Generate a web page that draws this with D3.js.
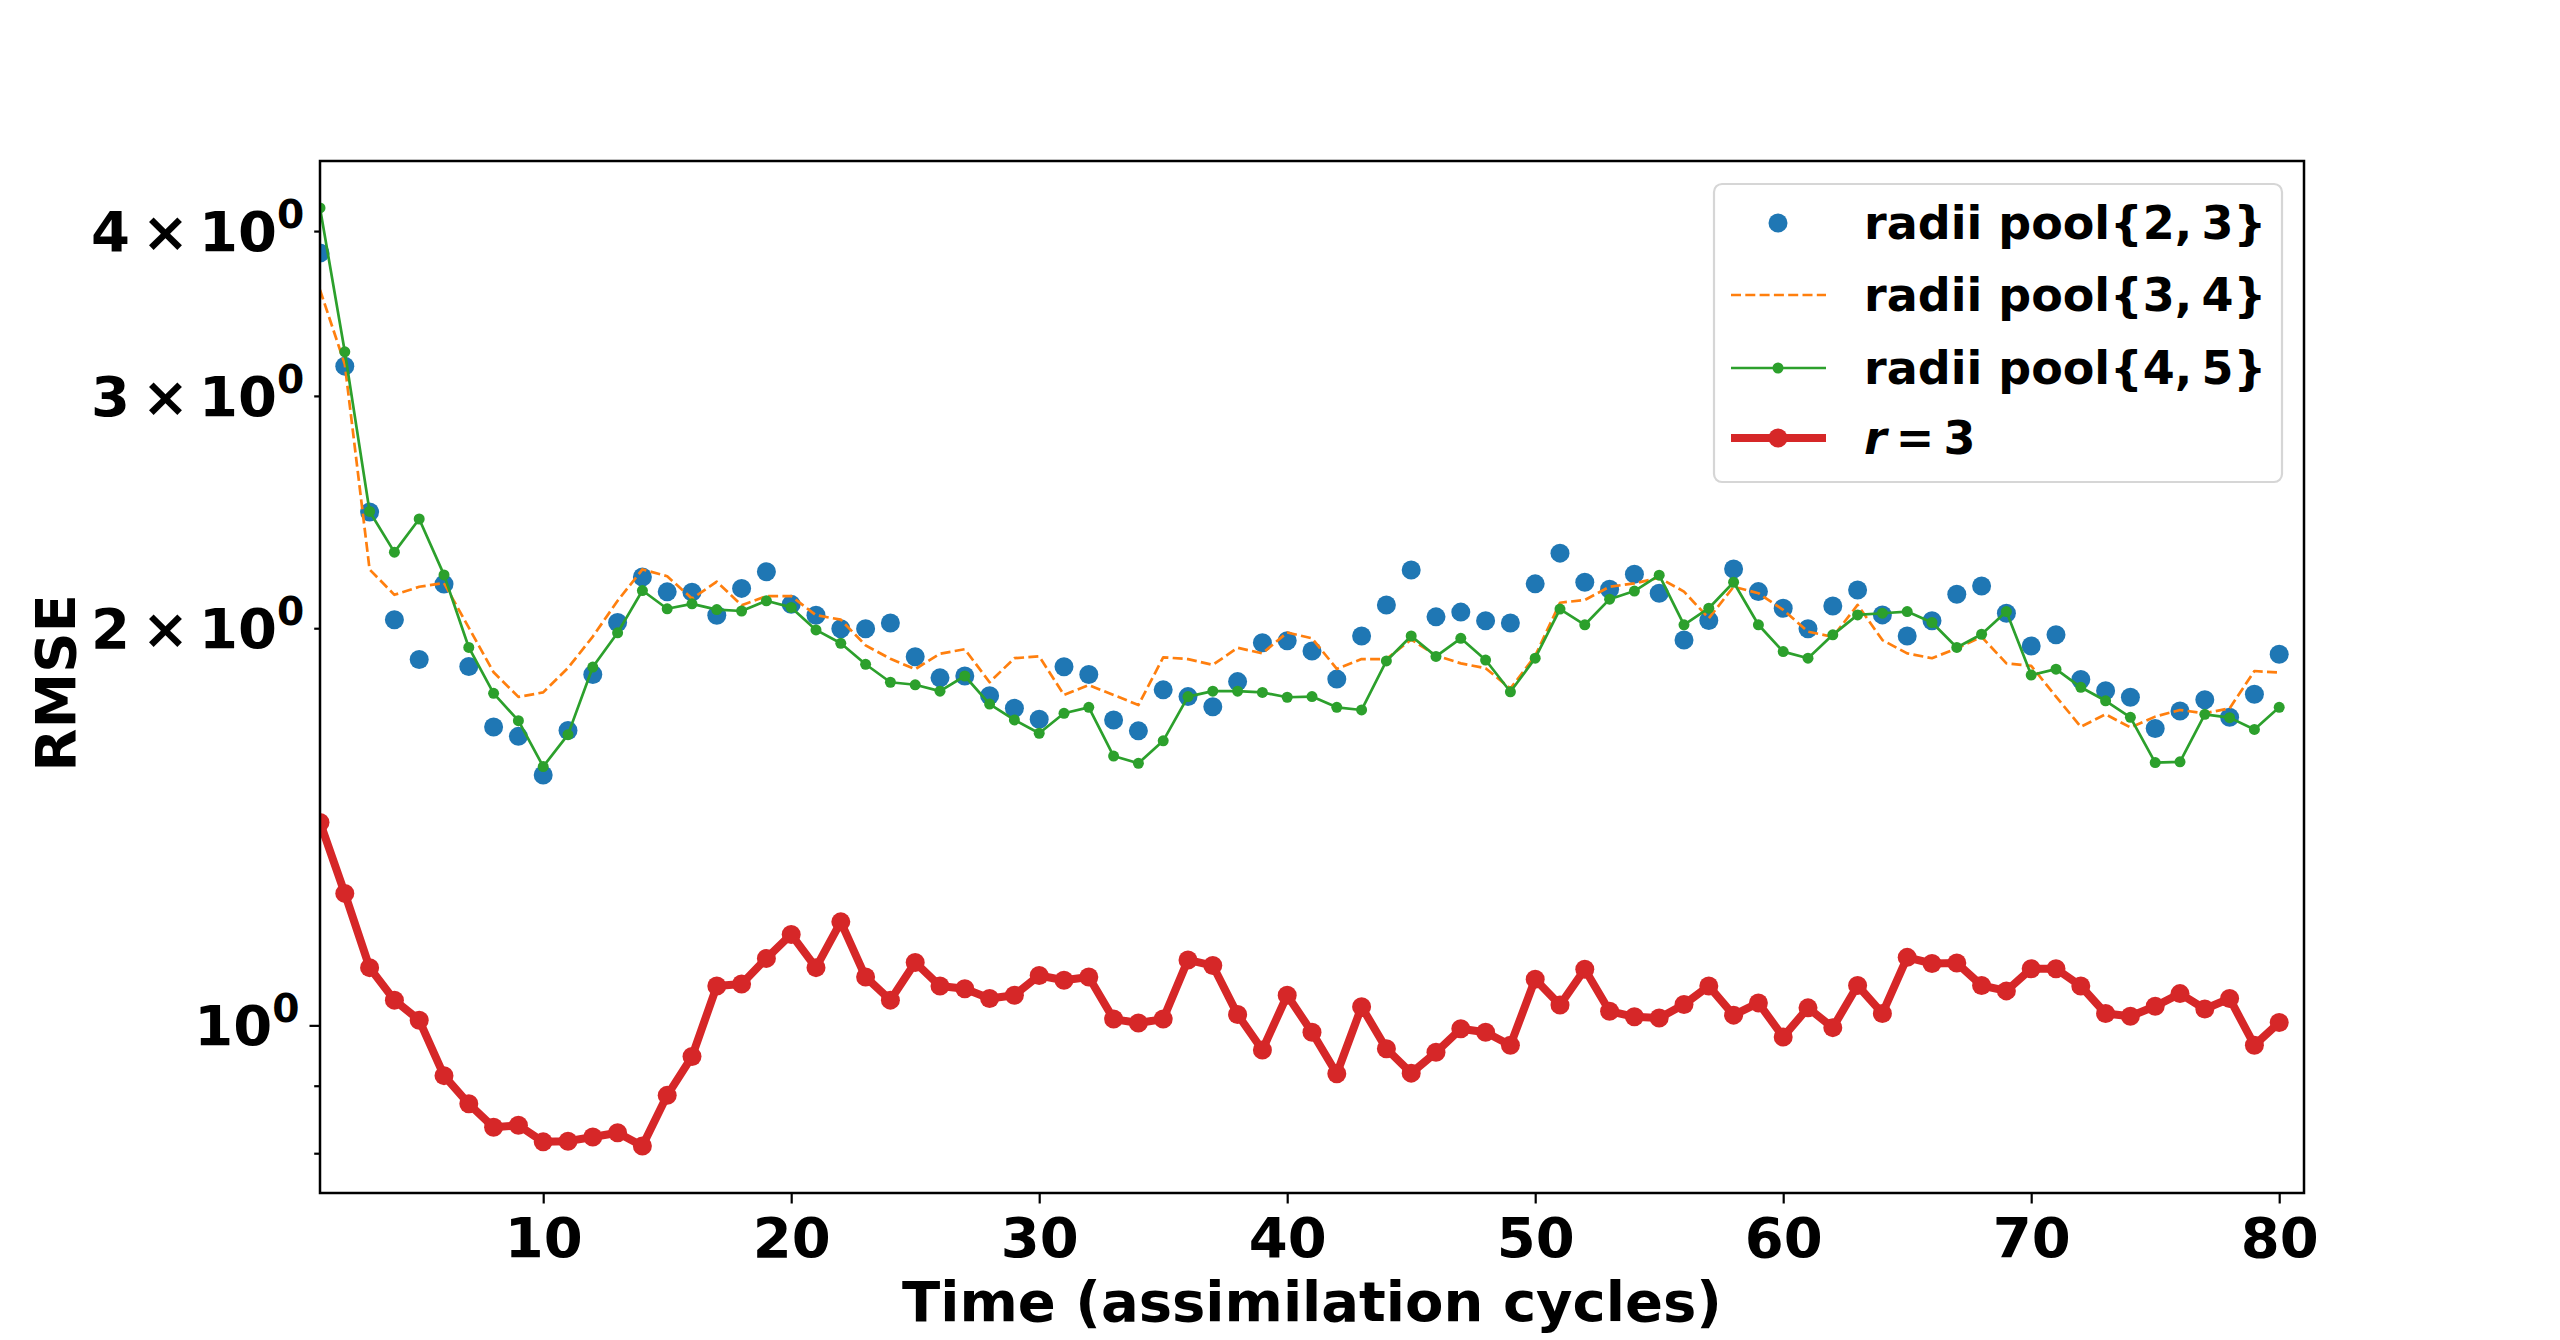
<!DOCTYPE html>
<html>
<head>
<meta charset="utf-8">
<script src="https://cdn.jsdelivr.net/npm/d3@7"></script>
<style>
  html, body { margin: 0; padding: 0; background: #fff; }
  svg { display: block; font-family: 'DejaVu Sans', sans-serif; font-weight: bold; }
</style>
</head>
<body>
<svg id="chart" width="2560" height="1340"></svg>
<script>
// assimilation cycle index
const cycles = d3.range(1, 81)

const pool23 = [
  3.85, 3.16, 2.45, 2.03, 1.894, 2.16, 1.871, 1.683, 1.656, 1.548,
  1.673, 1.845, 2.02, 2.187, 2.131, 2.13, 2.046, 2.144, 2.207, 2.085,
  2.046, 1.998, 1.998, 2.018, 1.903, 1.834, 1.84, 1.778, 1.739, 1.706,
  1.87, 1.845, 1.704, 1.672, 1.796, 1.775, 1.744, 1.822, 1.95, 1.957,
  1.922, 1.83, 1.973, 2.083, 2.214, 2.04, 2.057, 2.026, 2.018, 2.161,
  2.28, 2.167, 2.141, 2.198, 2.126, 1.959, 2.027, 2.218, 2.132, 2.071,
  1.998, 2.079, 2.138, 2.047, 1.973, 2.026, 2.122, 2.153, 2.053, 1.939,
  1.977, 1.829, 1.793, 1.773, 1.679, 1.731, 1.765, 1.712, 1.782, 1.911,
]

const pool34 = [
  3.61, 3.17, 2.216, 2.12, 2.15, 2.164, 2.002, 1.852, 1.774, 1.788,
  1.866, 1.971, 2.098, 2.216, 2.19, 2.106, 2.169, 2.082, 2.115, 2.115,
  2.046, 2.03, 1.941, 1.896, 1.862, 1.913, 1.928, 1.82, 1.898, 1.904,
  1.78, 1.811, 1.78, 1.749, 1.901, 1.895, 1.876, 1.933, 1.914, 1.985,
  1.965, 1.863, 1.895, 1.895, 1.961, 1.907, 1.881, 1.865, 1.8, 1.906,
  2.091, 2.101, 2.15, 2.163, 2.184, 2.132, 2.035, 2.15, 2.126, 2.065,
  1.988, 1.97, 2.083, 1.959, 1.914, 1.898, 1.931, 1.97, 1.881, 1.873,
  1.775, 1.684, 1.721, 1.682, 1.714, 1.734, 1.724, 1.739, 1.856, 1.851,
]

const pool45 = [
  4.165, 3.24, 2.452, 2.284, 2.42, 2.195, 1.934, 1.785, 1.702, 1.571,
  1.661, 1.869, 1.984, 2.136, 2.069, 2.087, 2.066, 2.061, 2.098, 2.074,
  1.994, 1.948, 1.878, 1.82, 1.812, 1.792, 1.84, 1.752, 1.704, 1.665,
  1.724, 1.742, 1.6, 1.58, 1.643, 1.775, 1.792, 1.792, 1.788, 1.773,
  1.775, 1.742, 1.734, 1.889, 1.973, 1.904, 1.965, 1.892, 1.79, 1.898,
  2.068, 2.012, 2.104, 2.134, 2.194, 2.012, 2.071, 2.167, 2.012, 1.92,
  1.898, 1.977, 2.047, 2.053, 2.059, 2.02, 1.934, 1.979, 2.059, 1.843,
  1.862, 1.804, 1.762, 1.712, 1.582, 1.584, 1.721, 1.711, 1.676, 1.742,
]

const r3 = [
  1.425, 1.259, 1.106, 1.045, 1.009, 0.916, 0.872, 0.837, 0.84, 0.816,
  0.817, 0.823, 0.829, 0.81, 0.885, 0.947, 1.071, 1.075, 1.124, 1.172,
  1.106, 1.198, 1.088, 1.045, 1.116, 1.071, 1.066, 1.048, 1.054, 1.091,
  1.082, 1.088, 1.011, 1.004, 1.011, 1.121, 1.11, 1.019, 0.958, 1.054,
  0.988, 0.919, 1.033, 0.96, 0.92, 0.954, 0.994, 0.988, 0.966, 1.084,
  1.036, 1.103, 1.025, 1.015, 1.013, 1.037, 1.071, 1.018, 1.04, 0.98,
  1.031, 0.996, 1.072, 1.021, 1.126, 1.114, 1.115, 1.072, 1.062, 1.104,
  1.104, 1.071, 1.021, 1.016, 1.034, 1.057, 1.029, 1.048, 0.966, 1.005,
]

const xTicks = [10, 20, 30, 40, 50, 60, 70, 80]
const yTicks = [0.8, 0.9, 1, 2, 3, 4]
const yTickMantissa = ['', '', '', '2', '3', '4']
const legendNames = ['radii pool{2,\u20093}', 'radii pool{3,\u20094}', 'radii pool{4,\u20095}', '\u2009=\u20093']

const width = 2560
const height = 1340
const margin = { top: 161, right: 256, bottom: 147, left: 320 }
const innerW = width - margin.left - margin.right
const innerH = height - margin.top - margin.bottom
const fontSize = 56

const series = [
  { values: pool23, color: '#1f77b4', lineWidth: 0, dotR: 9.5 },
  { values: pool34, color: '#ff7f0e', lineWidth: 2.7, dash: '10,4.3', dotR: 0 },
  { values: pool45, color: '#2ca02c', lineWidth: 2.7, dotR: 5.5 },
  { values: r3, color: '#d62728', lineWidth: 8, dotR: 9.5 },
]

// log axis limits padded 5% each side like matplotlib autoscale
const allValues = [].concat(pool23, pool34, pool45, r3)
const logLo = Math.log10(d3.min(allValues))
const logHi = Math.log10(d3.max(allValues))
const logPad = (logHi - logLo) * 0.05

const x = d3.scaleLinear().domain([1, 81]).range([0, innerW])
const y = d3.scaleLog()
  .domain([Math.pow(10, logLo - logPad), Math.pow(10, logHi + logPad)])
  .range([innerH, 0])

const svg = d3.select('#chart')
const g = svg.append('g').attr('transform', `translate(${margin.left},${margin.top})`)

g.append('defs').append('clipPath').attr('id', 'plot-clip')
  .append('rect').attr('width', innerW).attr('height', innerH)

const plot = g.append('g').attr('clip-path', 'url(#plot-clip)')

series.forEach((s) => {
  const pts = cycles.map((c, i) => [c, s.values[i]])
  if (s.lineWidth) {
    plot.append('path')
      .datum(pts)
      .attr('fill', 'none')
      .attr('stroke', s.color)
      .attr('stroke-width', s.lineWidth)
      .attr('stroke-dasharray', s.dash || null)
      .attr('stroke-linejoin', 'round')
      .attr('d', d3.line().x((d) => x(d[0])).y((d) => y(d[1])))
  }
  if (s.dotR) {
    plot.append('g').selectAll('circle')
      .data(pts)
      .enter()
      .append('circle')
      .attr('cx', (d) => x(d[0]))
      .attr('cy', (d) => y(d[1]))
      .attr('r', s.dotR)
      .attr('fill', s.color)
  }
})

// x axis
const xAxis = g.append('g')
  .attr('transform', `translate(0,${innerH})`)
  .call(d3.axisBottom(x).tickValues(xTicks).tickSize(10.5).tickPadding(0).tickFormat(d3.format('d')))
xAxis.select('.domain').remove()
xAxis.selectAll('line').attr('stroke', '#000').attr('stroke-width', 2.2)
xAxis.selectAll('text')
  .attr('y', 64)
  .attr('dy', null)
  .attr('fill', '#000')
  .style('font-size', fontSize + 'px')
  .style('font-family', 'DejaVu Sans')
  .style('font-weight', 'bold')

// y axis, only 10^0 is a major tick
const yAxis = g.append('g')
  .call(d3.axisLeft(y).tickValues(yTicks).tickSize(10.5).tickFormat(''))
yAxis.select('.domain').remove()
yAxis.selectAll('.tick line')
  .attr('stroke', '#000')
  .attr('stroke-width', 2.2)
  .attr('x2', (d) => { return d === 1 ? -10.5 : -5.8 })

yTicks.forEach((v, i) => {
  if (v < 1) return
  const tickLen = v === 1 ? 10.5 : 5.8
  const t = g.append('text')
    .attr('x', -tickLen - 10)
    .attr('y', y(v) + 20)
    .attr('text-anchor', 'end')
    .style('font-size', fontSize + 'px')
  if (yTickMantissa[i]) {
    t.append('tspan').text(yTickMantissa[i])
    t.append('tspan').attr('dx', 12).text('×')
    t.append('tspan').attr('dx', 10).text('10')
  } else {
    t.append('tspan').text('10')
  }
  t.append('tspan')
    .attr('dy', -23)
    .style('font-size', (fontSize * 0.7) + 'px')
    .text('0')
})

// frame
g.append('rect')
  .attr('width', innerW)
  .attr('height', innerH)
  .attr('fill', 'none')
  .attr('stroke', '#000')
  .attr('stroke-width', 2.5)

// axis labels
svg.append('text')
  .attr('x', margin.left + innerW / 2)
  .attr('y', 1321)
  .attr('text-anchor', 'middle')
  .style('font-size', fontSize + 'px')
  .text('Time (assimilation cycles)')

svg.append('text')
  .attr('transform', `translate(75,${margin.top + innerH / 2 + 6}) rotate(-90)`)
  .attr('text-anchor', 'middle')
  .style('font-size', fontSize + 'px')
  .text('RMSE')

// legend
const legend = svg.append('g').attr('transform', 'translate(1714,184)')
legend.append('rect')
  .attr('width', 568)
  .attr('height', 298)
  .attr('rx', 8)
  .attr('fill', '#fff')
  .attr('fill-opacity', 0.8)
  .attr('stroke', '#d6d6d6')
  .attr('stroke-width', 2.2)

const rowY = [39, 111, 184, 254]
series.forEach((s, i) => {
  const row = legend.append('g').attr('transform', `translate(0,${rowY[i]})`)
  if (s.lineWidth) {
    row.append('line')
      .attr('x1', 17)
      .attr('x2', 112)
      .attr('stroke', s.color)
      .attr('stroke-width', s.lineWidth)
      .attr('stroke-dasharray', s.dash || null)
  }
  if (s.dotR) {
    row.append('circle').attr('cx', 64).attr('r', s.dotR).attr('fill', s.color)
  }
  const label = row.append('text')
    .attr('x', 150)
    .attr('y', 16)
    .style('font-size', '46px')
  if (i === 3) {
    label.append('tspan').style('font-style', 'italic').text('r')
  }
  label.append('tspan').text(legendNames[i])
})
</script>
</body>
</html>
